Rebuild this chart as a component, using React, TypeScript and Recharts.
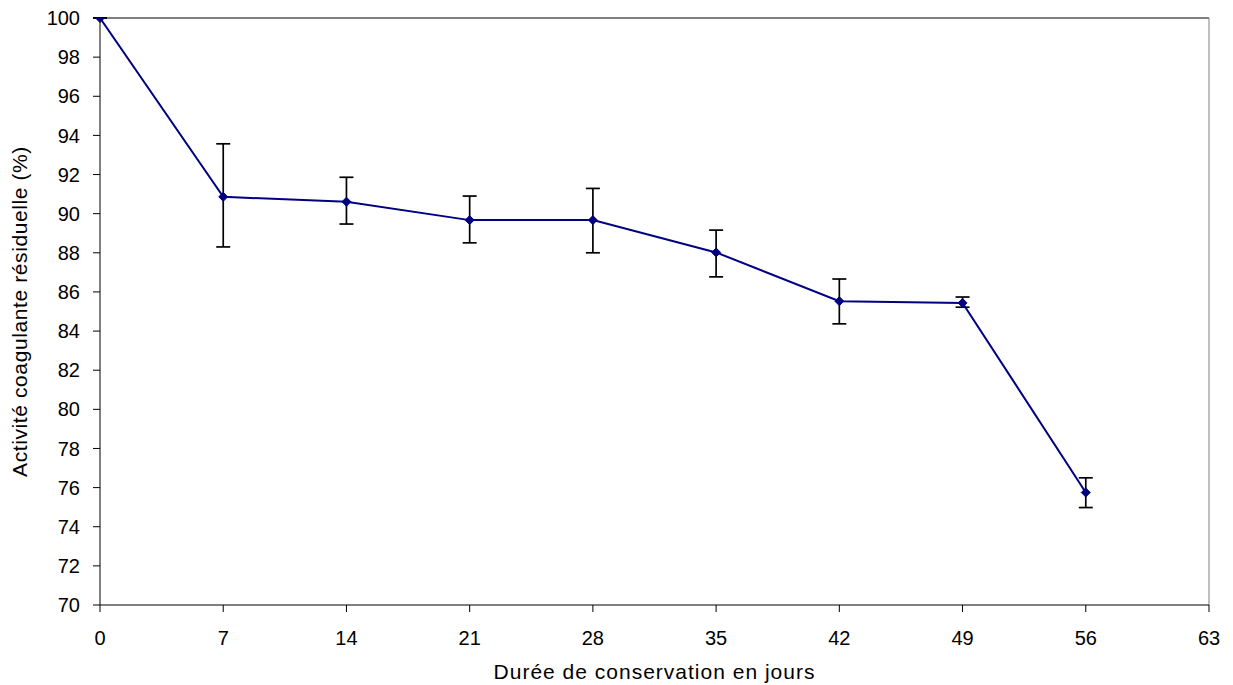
import React from "react";
import {
  ErrorBar,
  Line,
  LineChart,
  ReferenceLine,
  XAxis,
  YAxis,
} from "recharts";

// storage time (days) vs residual clotting activity (%)
const days = [0, 7, 14, 21, 28, 35, 42, 49, 56];
const activity = [100, 90.86, 90.61, 89.67, 89.67, 88.02, 85.53, 85.44, 75.75];
const errLow = [0, 2.56, 1.14, 1.16, 1.67, 1.25, 1.16, 0.22, 0.77];
const errHigh = [0, 2.71, 1.25, 1.23, 1.62, 1.14, 1.13, 0.3, 0.75];

const xTicks = [0, 7, 14, 21, 28, 35, 42, 49, 56, 63];
const yTicks = [70, 72, 74, 76, 78, 80, 82, 84, 86, 88, 90, 92, 94, 96, 98, 100];

const data = days.map((d, i) => ({
  day: d,
  activity: activity[i],
  err: [errLow[i], errHigh[i]],
}));

const FONT = "'Liberation Sans', Arial, sans-serif";
const NAVY = "#000080";

function Diamond(props: any) {
  const { cx, cy } = props;
  if (cx == null || cy == null) return null;
  const r = 4.5;
  return (
    <path
      d={`M${cx},${cy - r} L${cx + r},${cy} L${cx},${cy + r} L${cx - r},${cy} Z`}
      fill={NAVY}
      stroke={NAVY}
    />
  );
}

export default function App() {
  const tickStyle = { fill: "#000", fontSize: 20, fontFamily: FONT };
  return (
    <div style={{ width: 1225, height: 677, fontFamily: FONT }}>
      <LineChart
        width={1225}
        height={677}
        data={data}
        margin={{ top: 10, right: 24, bottom: 0, left: 0 }}
      >
        <XAxis
          dataKey="day"
          type="number"
          domain={[0, 63]}
          ticks={xTicks}
          interval={0}
          height={80}
          tickSize={7}
          tickMargin={19}
          stroke="#000"
          tick={tickStyle}
          label={{
            value: "Durée de conservation  en jours",
            position: "insideBottom",
            offset: 6,
            style: {
              fill: "#000",
              fontSize: 21,
              fontFamily: FONT,
              letterSpacing: 1,
              whiteSpace: "pre",
            },
          }}
        />
        <YAxis
          type="number"
          domain={[70, 100]}
          ticks={yTicks}
          interval={0}
          allowDataOverflow
          width={92}
          tickSize={7}
          tickMargin={13}
          stroke="#000"
          tick={tickStyle}
          label={{
            value: "Activité coagulante résiduelle (%)",
            angle: -90,
            position: "insideLeft",
            offset: 12,
            style: {
              fill: "#000",
              fontSize: 21,
              fontFamily: FONT,
              letterSpacing: 0.6,
              textAnchor: "middle",
            },
          }}
        />
        <ReferenceLine y={100} stroke="#000" strokeWidth={1} ifOverflow="visible" />
        <ReferenceLine x={63} stroke="#808080" strokeWidth={1} ifOverflow="visible" />
        <Line
          dataKey="activity"
          stroke={NAVY}
          strokeWidth={2}
          dot={<Diamond />}
          activeDot={false}
          isAnimationActive={false}
        >
          <ErrorBar
            dataKey="err"
            direction="y"
            width={7}
            stroke="#000"
            strokeWidth={1.7}
            isAnimationActive={false}
          />
        </Line>
      </LineChart>
    </div>
  );
}
